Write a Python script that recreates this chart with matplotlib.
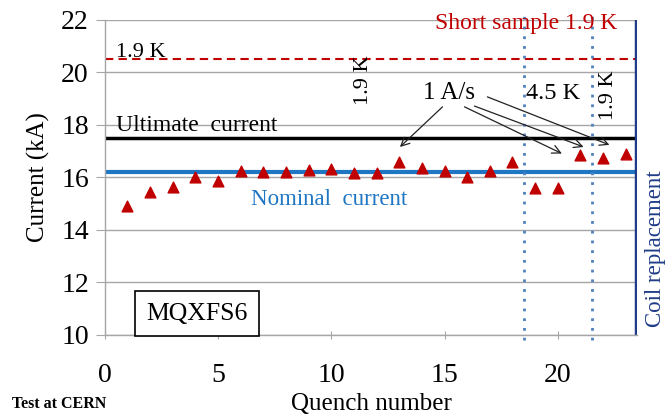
import matplotlib
matplotlib.use('Agg')
import matplotlib.pyplot as plt

plt.rcParams['font.family'] = ['Liberation Serif', 'DejaVu Serif']

# ── data ─────────────────────────────────────────────────────────────────────
quench = list(range(1, 24))
current = [14.9, 15.45, 15.65, 16.0, 15.85, 16.25, 16.2, 16.2, 16.3, 16.33,
           16.15, 16.15, 16.6, 16.35, 16.25, 16.0, 16.25, 16.6, 15.6, 15.6,
           16.85, 16.75, 16.9]

ULTIMATE = 17.5
NOMINAL = 16.2
SHORT_SAMPLE = 20.5
TEMP_CHANGES = [18.5, 21.5]     # 1.9 K -> 4.5 K -> 1.9 K
COIL_REPLACEMENT = 23.45

# "1 A/s" arrows: start (near label) and tip (next to the quench)
arrow_starts = [(14.91, 18.69), (15.88, 18.69), (16.32, 18.72), (16.89, 19.07)]
arrow_tips = [(13.03, 17.16), (20.18, 16.91), (21.14, 17.16), (22.28, 17.24)]

fig = plt.figure(figsize=(6.72, 4.16), dpi=100)
ax = fig.add_axes([0.156, 0.195, 0.792, 0.757])

grid_c = '#a6a6a6'
ax.set_xlim(0, 23.5)
ax.set_ylim(10, 22)
ax.set_yticks(range(10, 23, 2))
ax.set_xticks(range(0, 21, 5))
ax.grid(True, axis='y', color=grid_c, lw=1)
ax.set_axisbelow(True)
for s in ('top', 'right'):
    ax.spines[s].set_visible(False)
for s in ('left', 'bottom'):
    ax.spines[s].set_color(grid_c)
    ax.spines[s].set_linewidth(1)
ax.tick_params(axis='y', direction='out', length=6.5, color=grid_c, labelsize=20, pad=5)
ax.tick_params(axis='x', direction='inout', length=6, color=grid_c, labelsize=20, pad=17)

ax.axhline(SHORT_SAMPLE, color='#c00000', ls=(0, (4, 2.5)), lw=1.5)
ax.axhline(ULTIMATE, color='black', lw=2.5)
ax.axhline(NOMINAL, color='#1f77c4', lw=3)
ax.vlines(TEMP_CHANGES, 9.8, 22.2, color='#4f81bd', ls=(0, (1, 2.5)), lw=2,
          clip_on=False)
ax.axvline(COIL_REPLACEMENT, color='#1f3c88', lw=2.5)

ax.scatter(quench, current, marker='^', s=60, color='#c00000', zorder=4)

ax.text(0.5, 20.6, '1.9 K', fontsize=16)
ax.text(0.5, 17.78, 'Ultimate  current', fontsize=17)
ax.text(6.45, 14.95, 'Nominal  current', fontsize=16.5, color='#1f77c4')
ax.text(18.6, 21.85, 'Short sample 1.9 K', fontsize=17, color='#c00000',
        ha='center', va='center')
ax.text(11.4, 19.7, '1.9 K', fontsize=16, rotation=90, ha='center', va='center')
ax.text(22.24, 19.15, '1.9 K', fontsize=16, rotation=90, ha='center', va='center')
ax.text(19.8, 19.2, '4.5 K', fontsize=17.5, ha='center', va='center')
ax.text(15.2, 19.2, '1 A/s', fontsize=18, ha='center', va='center')
ax.text(1.84, 10.57, 'MQXFS6', fontsize=18.5,
        bbox=dict(boxstyle='square,pad=0.45', fc='white', ec='black', lw=1.2))

for (sx, sy), (tx, ty) in zip(arrow_starts, arrow_tips):
    ax.annotate('', xy=(tx, ty), xytext=(sx, sy),
                arrowprops=dict(arrowstyle='->', color='#222222', lw=0.9,
                                mutation_scale=15, shrinkA=0, shrinkB=0))

ax.text(24.3, 13.3, 'Coil replacement', fontsize=16.5, rotation=90, color='#1f3c88',
        ha='center', va='center', clip_on=False)

ax.set_xlabel('Quench number', fontsize=18, labelpad=4)
ax.set_ylabel('Current (kA)', fontsize=18, labelpad=8)
fig.text(0.018, 0.02, 'Test at CERN', fontsize=11.5, fontweight='bold')

fig.savefig('out.png', dpi=100)
